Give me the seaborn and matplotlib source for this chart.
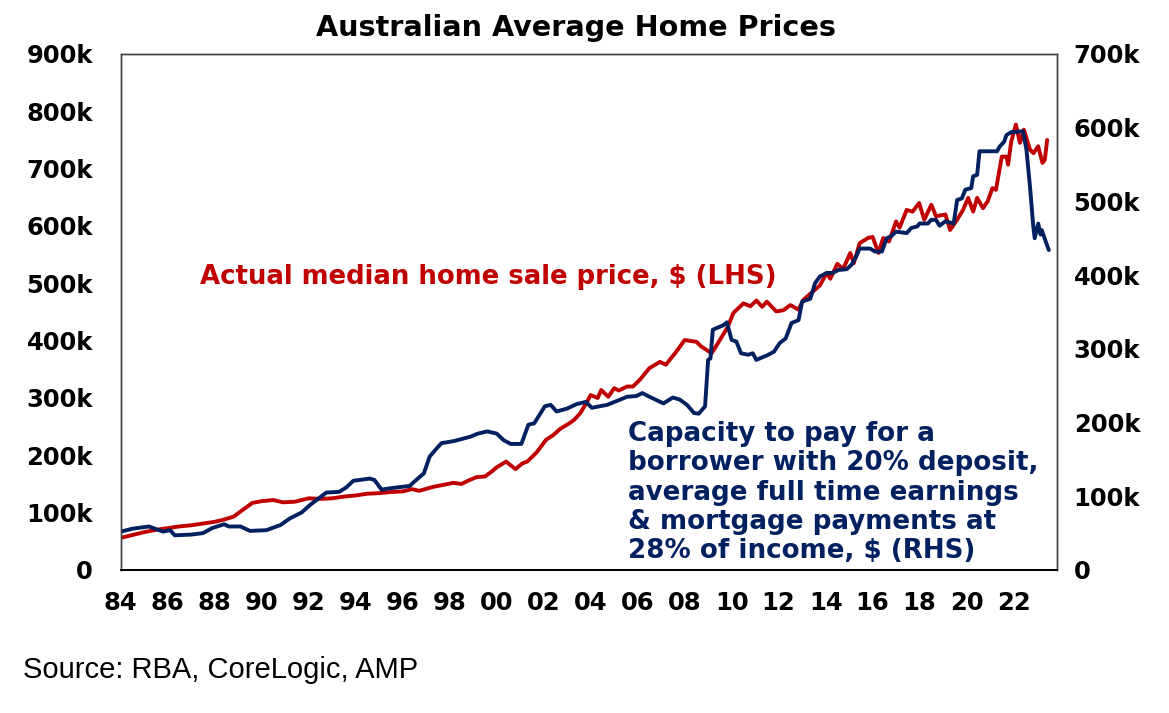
import pandas as pd
import seaborn as sns
import matplotlib.pyplot as plt
from matplotlib.ticker import FuncFormatter, MultipleLocator

# Actual median home sale price, $k (LHS)
price_year = [1984.0, 1984.5, 1985.0, 1985.5, 1986.0, 1986.5, 1987.0, 1987.5, 1988.0, 1988.4,
              1988.8, 1989.2, 1989.6, 1990.0, 1990.5, 1990.9, 1991.4, 1992.0, 1992.5, 1993.0,
              1993.5, 1994.0, 1994.5, 1995.0, 1995.5, 1996.0, 1996.4, 1996.7, 1997.3, 1997.8,
              1998.15, 1998.5, 1998.8, 1999.15, 1999.5, 1999.8, 2000.0, 2000.4, 2000.8, 2001.1,
              2001.3, 2001.7, 2002.1, 2002.4, 2002.7, 2003.1, 2003.3, 2003.55, 2003.8, 2004.0,
              2004.3, 2004.45, 2004.75, 2005.0, 2005.2, 2005.55, 2005.8, 2006.1, 2006.5, 2006.95,
              2007.2, 2007.65, 2008.0, 2008.5, 2008.7, 2009.15, 2009.5, 2009.85, 2010.07, 2010.5,
              2010.8, 2011.06, 2011.3, 2011.5, 2011.9, 2012.2, 2012.5, 2012.85, 2013.05, 2013.3,
              2013.75, 2014.05, 2014.2, 2014.5, 2014.75, 2015.05, 2015.2, 2015.45, 2015.8, 2016.0,
              2016.25, 2016.45, 2016.7, 2017.0, 2017.15, 2017.45, 2017.7, 2017.98, 2018.2, 2018.5,
              2018.7, 2019.1, 2019.3, 2019.6, 2019.85, 2020.07, 2020.28, 2020.45, 2020.7, 2020.9,
              2021.1, 2021.25, 2021.5, 2021.7, 2021.77, 2021.9, 2022.1, 2022.27, 2022.44, 2022.7,
              2022.85, 2023.05, 2023.23, 2023.33, 2023.43]
price_k = [56, 61, 66, 70, 73, 76, 78, 81, 84, 88,
           93, 105, 117, 120, 122, 118, 119, 125, 124, 125,
           128, 130, 133, 134, 136, 137, 141, 138, 145, 149,
           152, 150, 156, 162, 163, 172, 179, 189, 176, 186,
           189, 205, 227, 235, 246, 256, 262, 273, 290, 305,
           300, 314, 302, 317, 313, 320, 320, 332, 352, 363,
           358, 381, 401, 398, 390, 378, 401, 425, 448, 465,
           460, 470, 459, 468, 451, 453, 462, 454, 471, 480,
           496, 518, 508, 534, 525, 553, 535, 570, 579, 581,
           553, 579, 573, 608, 597, 628, 625, 640, 611, 637,
           617, 620, 593, 611, 628, 649, 625, 649, 631, 643,
           666, 663, 721, 721, 707, 747, 777, 745, 768, 733,
           727, 739, 710, 715, 750]

# Capacity to pay, $k (RHS)
capacity_year = [1984.0, 1984.5, 1985.2, 1985.8, 1986.1, 1986.3, 1987.0, 1987.5, 1987.9, 1988.4,
                 1988.6, 1989.1, 1989.5, 1990.2, 1990.8, 1991.2, 1991.7, 1992.05, 1992.5, 1992.75,
                 1993.3, 1993.6, 1993.9, 1994.6, 1994.8, 1995.1, 1995.5, 1996.3, 1996.5, 1996.9,
                 1997.15, 1997.45, 1997.65, 1998.2, 1998.9, 1999.2, 1999.6, 2000.0, 2000.3, 2000.6,
                 2001.05, 2001.35, 2001.6, 2002.05, 2002.3, 2002.55, 2003.0, 2003.4, 2003.8, 2004.05,
                 2004.7, 2005.25, 2005.55, 2005.95, 2006.2, 2006.5, 2007.1, 2007.5, 2007.8, 2008.1,
                 2008.4, 2008.6, 2008.87, 2009.0, 2009.1, 2009.2, 2009.65, 2009.8, 2010.0, 2010.2,
                 2010.4, 2010.7, 2010.9, 2011.05, 2011.5, 2011.8, 2012.05, 2012.3, 2012.55, 2012.85,
                 2013.0, 2013.35, 2013.55, 2013.75, 2014.05, 2014.3, 2014.55, 2014.9, 2015.1, 2015.3,
                 2015.45, 2015.9, 2016.1, 2016.4, 2016.6, 2016.8, 2017.0, 2017.45, 2017.65, 2017.9,
                 2018.0, 2018.35, 2018.5, 2018.7, 2018.85, 2019.1, 2019.45, 2019.6, 2019.8, 2019.95,
                 2020.2, 2020.28, 2020.45, 2020.55, 2021.3, 2021.4, 2021.6, 2021.7, 2021.9, 2022.4,
                 2022.55, 2022.7, 2022.84, 2022.9, 2023.05, 2023.15, 2023.2, 2023.4, 2023.5]
capacity_k = [52, 56, 59, 52, 54, 47, 48, 50, 57, 62,
              59, 59, 53, 54, 61, 70, 78, 88, 99, 105,
              106, 112, 121, 124, 122, 109, 111, 114, 120, 131,
              154, 165, 172, 175, 181, 185, 188, 185, 176, 171,
              171, 197, 199, 222, 224, 215, 219, 225, 228, 220,
              224, 231, 235, 236, 240, 235, 226, 234, 231, 224,
              213, 212, 222, 285, 287, 326, 332, 336, 312, 310,
              294, 292, 294, 285, 291, 296, 308, 314, 335, 339,
              364, 368, 389, 398, 403, 403, 407, 408, 414, 425,
              436, 436, 432, 432, 450, 453, 459, 457, 464, 466,
              470, 470, 475, 475, 467, 473, 470, 502, 504, 516,
              518, 534, 536, 568, 568, 574, 581, 590, 594, 595,
              570, 520, 466, 450, 470, 455, 461, 443, 434]

year_ticks = list(range(1984, 2023, 2))
year_labels = [f"{y % 100:02d}" for y in year_ticks]

RED = '#C00000'
NAVY = '#002060'

price = pd.DataFrame({'year': price_year, 'value': price_k})
capacity = pd.DataFrame({'year': capacity_year, 'value': capacity_k})

sns.set_style('white')
plt.rcParams['font.family'] = ['DejaVu Sans']

fig = plt.figure(figsize=(11.69, 7.13), dpi=100)
ax = fig.add_axes([0.1033, 0.2006, 0.8009, 0.7237])
ax2 = ax.twinx()

sns.lineplot(data=price, x='year', y='value', ax=ax, color=RED, linewidth=2.8)
sns.lineplot(data=capacity, x='year', y='value', ax=ax2, color=NAVY, linewidth=2.8)

ax.set_xlim(1984, 2023.85)
ax.set_ylim(0, 900)
ax2.set_ylim(0, 700)
ax.yaxis.set_major_locator(MultipleLocator(100))
ax2.yaxis.set_major_locator(MultipleLocator(100))

kfmt = FuncFormatter(lambda v, p: '0' if v == 0 else f'{int(v)}k')
ax.yaxis.set_major_formatter(kfmt)
ax2.yaxis.set_major_formatter(kfmt)

ax.set_xticks(year_ticks)
ax.set_xticklabels(year_labels)
for a in (ax, ax2):
    a.set_xlabel('')
    a.set_ylabel('')
    a.grid(False)

ax.tick_params(axis='x', direction='out', length=7, width=1.2, color='black',
               labelsize=17.5, labelcolor='black', pad=8)
ax.tick_params(axis='y', length=0, labelsize=17.5, labelcolor='black', pad=20)
ax2.tick_params(axis='y', length=0, labelsize=17.5, labelcolor='black', pad=12)
for lab in ax.get_xticklabels() + ax.get_yticklabels() + ax2.get_yticklabels():
    lab.set_fontweight('bold')

for a in (ax, ax2):
    for side in ('top', 'right', 'left'):
        a.spines[side].set_color('#404040')
        a.spines[side].set_linewidth(1.0)
    a.spines['bottom'].set_color('black')
    a.spines['bottom'].set_linewidth(1.3)

fig.text(0.493, 0.961, 'Australian Average Home Prices', ha='center', va='center',
         fontsize=20.6, fontweight='bold', color='black')
fig.text(0.171, 0.6115, 'Actual median home sale price, $ (LHS)', ha='left', va='center',
         fontsize=18.7, fontweight='bold', color=RED)
fig.text(0.537, 0.309,
         'Capacity to pay for a\nborrower with 20% deposit,\naverage full time earnings\n'
         '& mortgage payments at\n28% of income, $ (RHS)',
         ha='left', va='center', fontsize=18.8, fontweight='bold', color=NAVY,
         linespacing=1.16)
fig.text(0.0197, 0.0603, 'Source: RBA, CoreLogic, AMP', ha='left', va='center',
         fontsize=21, family=['Liberation Sans', 'DejaVu Sans'], color='black')

fig.savefig('out.png', dpi=100)
